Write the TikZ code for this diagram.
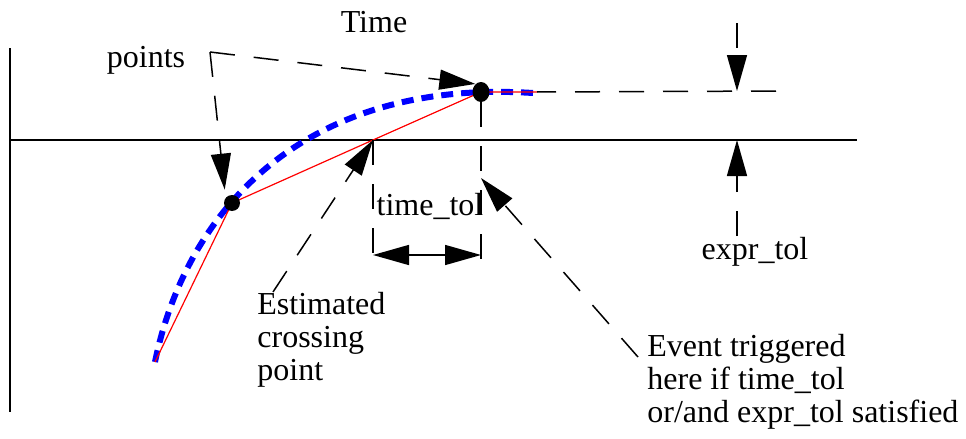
\documentclass[tikz,border=0pt]{standalone}
\usepackage{fontspec}
\setmainfont{Liberation Serif}
\usetikzlibrary{arrows.meta,shapes.geometric,calc}

\begin{document}
\begin{tikzpicture}[
  x=0.5pt,y=-0.5pt,
  font=\fontsize{16pt}{16.5pt}\selectfont,
  lbl/.style={inner sep=0pt,align=left},
  dot/.style={circle,fill=black,inner sep=0pt,minimum size=8pt},
  dotb/.style={ellipse,fill=black,inner sep=0pt,minimum width=8.5pt,minimum height=10pt},
  dsh/.style={line width=0.75pt,dash pattern=on 12.5pt off 9.5pt},
  arr/.style={dsh,-{Triangle[length=18pt,width=10pt]}},
  dim/.style={line width=0.75pt,{Triangle[length=18pt,width=10pt]}-{Triangle[length=18pt,width=10pt]}},
  axis/.style={line width=1pt},
  est/.style={red,line width=0.6pt},
  fit/.style={blue,line width=3pt,dash pattern=on 6pt off 4pt},
]
\useasboundingbox (0,0) rectangle (966,439);
% axes
\draw[axis] (10,48) -- (10,412);
\draw[axis] (10,140) -- (857,140);
% curve and its linear estimate
\coordinate (p0) at (155,362);
\coordinate (cross) at (373,140);
\coordinate (pend) at (537,92);
\draw[fit] (p0) .. controls (185,215) and (300,78) .. (533,93);
\draw[est] (p0) -- (232,203) -- (cross) -- (481,92) -- (pend);
\node[dot] (dot1) at (232,203) {};
\node[dotb] (dot2) at (481,92) {};
% labels
\node[lbl] (time) at (374,22) {Time};
\node[lbl] (pts) at (146,60) {points};
\node[lbl,anchor=north west] (estim) at (257,292) {Estimated\\crossing\\point};
\node[lbl,anchor=north west] (event) at (647,334) {Event triggered\\here if time\_tol\\or/and expr\_tol satisfied};
\node[lbl] (ttol) at (430,206) {time\_tol};
\node[lbl] (etol) at (755,252) {expr\_tol};
% points
\coordinate (pc) at (210,52);
\draw[arr] (pc) -- (dot2.125);
\draw[arr,shorten >=4pt] (pc) -- (dot1.140);
\draw[arr] ([xshift=8pt]estim.north west) -- (cross);
% time tolerance
\coordinate (t1) at (373,263);
\coordinate (t2) at (481,263);
\coordinate (trig) at (481,178);
\draw[dsh] (cross) -- (t1);
\draw[dsh] (dot2) -- (t2);
\draw[dim] (373,255) -- (481,255);
\draw[arr] ([shift={(-4.5pt,-11.5pt)}]event.north west) -- (trig);
% expression tolerance
\coordinate (e0) at (737,23);
\coordinate (e1) at (737,91);
\coordinate (e2) at (737,140);
\coordinate (e3) at (737,236);
\draw[dsh,dash phase=3pt] (pend) -- (785,91);
\draw[arr] (e0) -- (e1);
\draw[arr] (e3) -- (e2);
\end{tikzpicture}
\end{document}
